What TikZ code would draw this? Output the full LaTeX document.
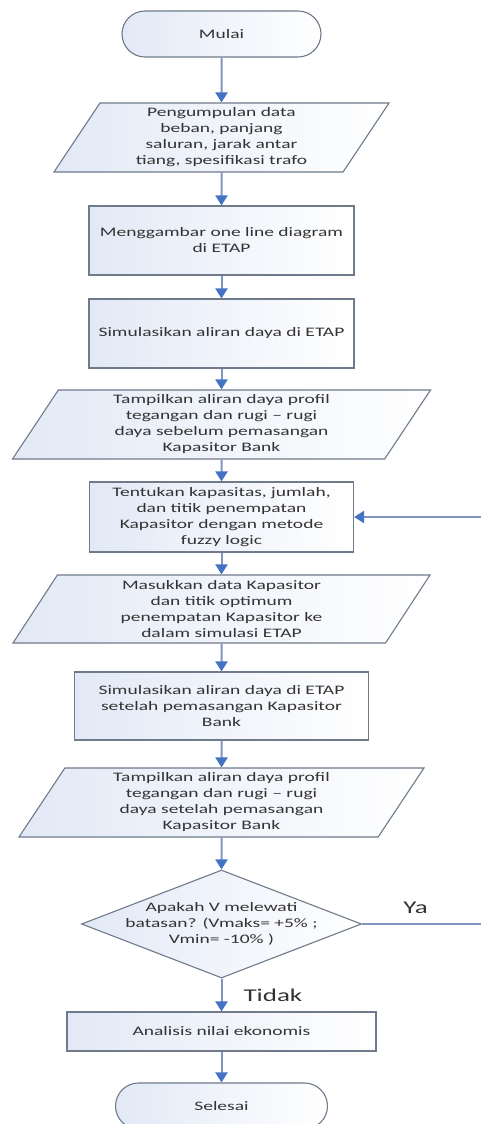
\documentclass[tikz,border=0pt]{standalone}
\usepackage{fontspec}
\setmainfont[FakeStretch=1.5]{Carlito}
\usepackage{xcolor}
\usepackage{tikz}
\usetikzlibrary{shapes.geometric,arrows.meta}

\definecolor{garis}{HTML}{6F7A8A}
\definecolor{panah}{HTML}{4472C4}
\definecolor{batang}{HTML}{7F95C0}
\definecolor{isian}{HTML}{E2E9F6}
\definecolor{teks}{HTML}{333333}

\begin{document}
\begin{tikzpicture}[
    x=1pt, y=-1pt,
    % Gaya umum untuk kotak, panah dan label jawaban.
    every node/.style={font=\fontsize{13}{16}\selectfont, align=center, text=teks},
    box/.style={draw=garis, line width=1.1pt, left color=isian, right color=white, inner sep=2pt},
    terminal/.style={box, rectangle, rounded corners=23pt, minimum width=199pt, minimum height=46pt},
    process/.style={box, rectangle, minimum height=69pt},
    io/.style={box, trapezium, trapezium left angle=54, trapezium right angle=126,
               trapezium stretches body, minimum height=69pt},
    decision/.style={box, diamond, aspect=2.6, inner sep=-8pt, minimum width=280pt, minimum height=108pt},
    flow/.style={draw=batang, line width=2pt},
    arrow/.style={flow, -{Triangle[length=10pt, width=12pt, color=panah]}},
    answer/.style={font=\fontsize{18}{20}\selectfont, inner sep=1pt}
]
\useasboundingbox (0,0) rectangle (481,1124);

% Diagram alir simulasi aliran daya dan penempatan kapasitor.
\node[terminal] (mulai) at (221.5,34) {Mulai};
\node[io, minimum width=335pt] (kumpul) at (221.5,137.5)
    {Pengumpulan data\\beban, panjang\\saluran, jarak antar\\tiang, spesifikasi trafo};
\node[process, minimum width=265pt] (gambar) at (221.5,240.5)
    {Menggambar one line diagram\\di ETAP};
\node[process, minimum width=265pt] (simulasi) at (221.5,333.5)
    {Simulasikan aliran daya di ETAP};
\node[io, minimum width=418pt] (tampil) at (221.5,424.5)
    {Tampilkan aliran daya profil\\tegangan dan rugi -- rugi\\daya sebelum pemasangan\\Kapasitor Bank};
\node[process, minimum width=264pt, minimum height=70pt] (tentukan) at (221.5,517)
    {Tentukan kapasitas, jumlah,\\dan titik penempatan\\Kapasitor dengan metode\\fuzzy logic};
\node[io, minimum width=417pt, minimum height=68pt] (masukkan) at (221.5,609)
    {Masukkan data Kapasitor\\dan titik optimum\\penempatan Kapasitor ke\\dalam simulasi ETAP};
\node[process, minimum width=294pt, minimum height=68pt] (simulasi2) at (221.5,706)
    {Simulasikan aliran daya di ETAP\\setelah pemasangan Kapasitor\\Bank};
\node[io, minimum width=405pt] (tampil2) at (221.5,802.5)
    {Tampilkan aliran daya profil\\tegangan dan rugi -- rugi\\daya setelah pemasangan\\Kapasitor Bank};
\node[decision] (cek) at (221.5,924)
    {Apakah V melewati\\batasan? (Vmaks= +5\% ;\\Vmin= -10\% )};
\node[process, minimum width=309pt, minimum height=39pt] (analisis) at (221.5,1031.5)
    {Analisis nilai ekonomis};
\node[terminal, minimum width=212pt] (selesai) at (221.5,1106) {Selesai};

% Ujung garis balik di tepi kanan gambar.
\coordinate (balik) at (481,517);
\coordinate (ujung) at (481,924);

% Panah utama dari atas ke bawah.
\draw[arrow] (mulai) -- (kumpul);
\draw[arrow] (kumpul) -- (gambar);
\draw[arrow] (gambar) -- (simulasi);
\draw[arrow] (simulasi) -- (tampil);
\draw[arrow] (tampil) -- (tentukan);
\draw[arrow] (tentukan) -- (masukkan);
\draw[arrow] (masukkan) -- (simulasi2);
\draw[arrow] (simulasi2) -- (tampil2);
\draw[arrow] (tampil2) -- (cek);
\draw[arrow] (cek) -- node[answer, right=20pt] {Tidak} (analisis);
\draw[arrow] (analisis) -- (selesai);

% Cabang "Ya" kembali ke penentuan kapasitor.
\draw[flow] (cek.east) -- node[answer, above=8pt, pos=0.45] {Ya} (ujung);
\draw[arrow] (balik) -- (tentukan.east);
\end{tikzpicture}
\end{document}
